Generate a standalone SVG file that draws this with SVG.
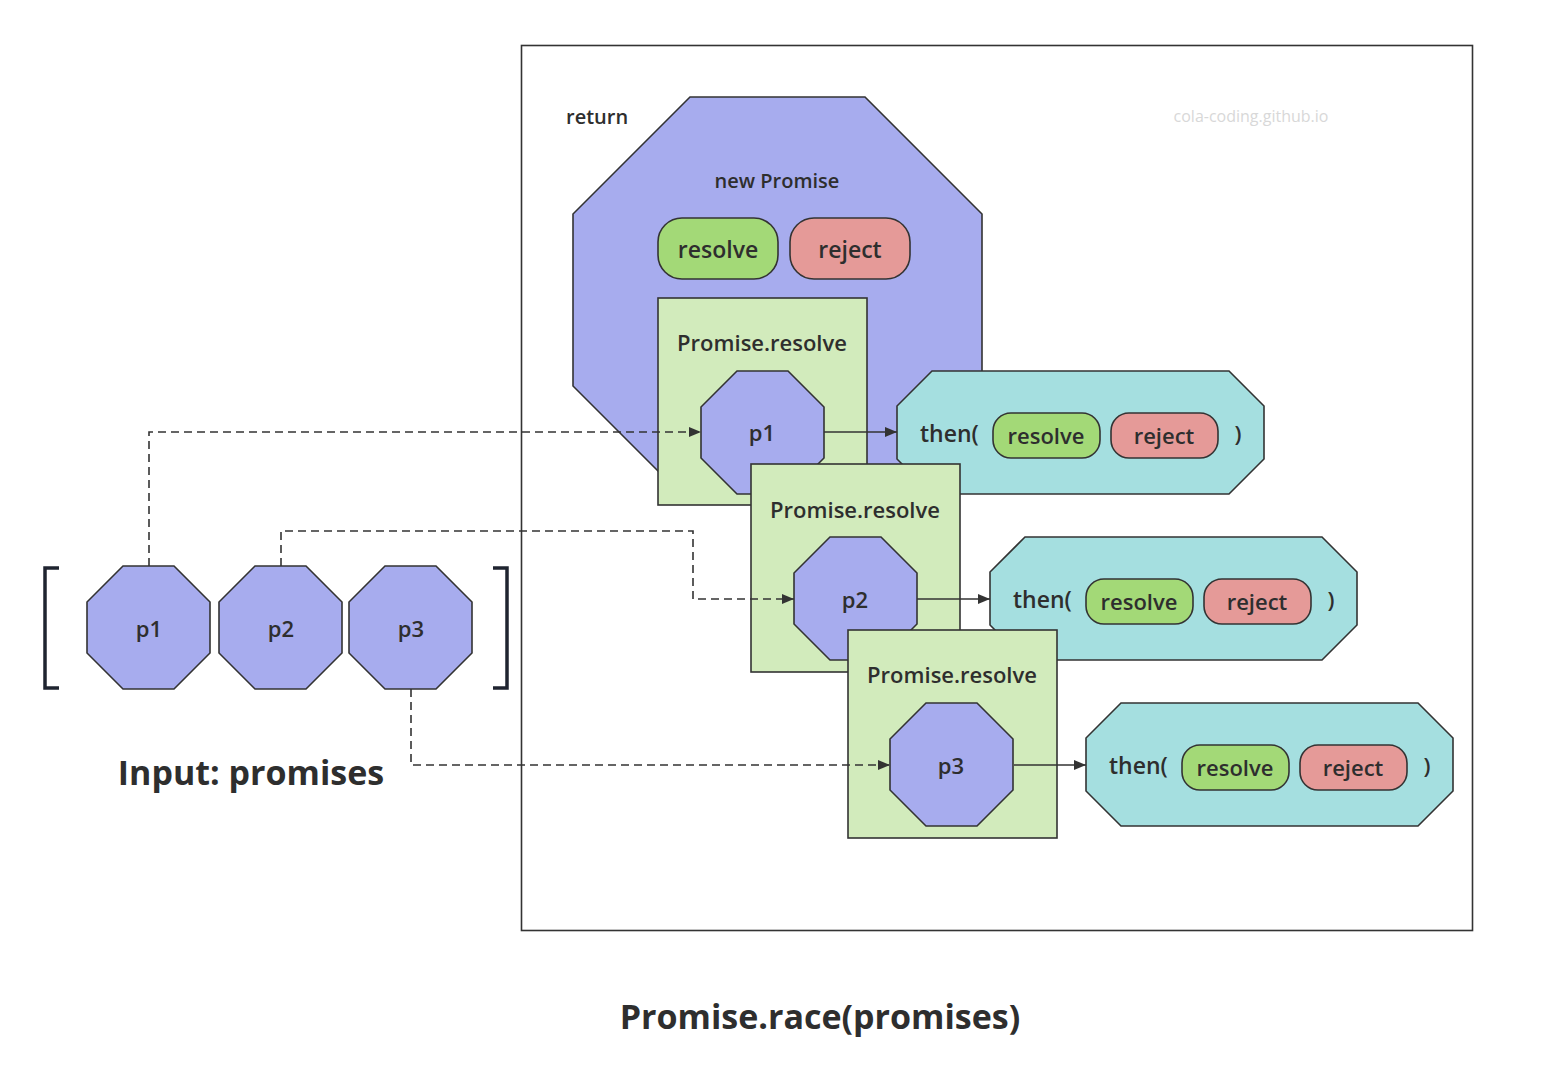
<svg xmlns="http://www.w3.org/2000/svg" xmlns:xlink="http://www.w3.org/1999/xlink" width="1556" height="1078" viewBox="0 0 1556 1078">
<style>
text{font-family:"Open Sans","Noto Sans",sans-serif;font-weight:600;fill:#2e2e2e}
.c{text-anchor:middle}
.blue{fill:#a7acee;stroke:#333;stroke-width:1.6}
.teal{fill:#a5dfe0;stroke:#333;stroke-width:1.6}
.grn{fill:#d2ebbc;stroke:#333;stroke-width:1.6}
.res{fill:#a3d977;stroke:#333;stroke-width:1.6}
.rej{fill:#e59a98;stroke:#333;stroke-width:1.6}
.dash{fill:none;stroke:#333;stroke-width:1.6;stroke-dasharray:8 5}
.solid{fill:none;stroke:#333;stroke-width:1.6}
.br{fill:none;stroke:#1f2430;stroke-width:3.5}
</style>
<defs>
<polygon id="oct" points="36,0 87,0 123,36 123,87 87,123 36,123 0,87 0,36"/>
<polygon id="toct" points="35,0 332,0 367,35 367,88 332,123 35,123 0,88 0,35"/>
<marker id="ah" viewBox="0 0 12 10" refX="12" refY="5" markerWidth="12" markerHeight="10" markerUnits="userSpaceOnUse" orient="auto">
<path d="M0,0 L12,5 L0,10 Z" fill="#333"/>
</marker>
</defs>
<rect width="1556" height="1078" fill="#fff"/>
<g id="frame">
<rect x="521.5" y="45.5" width="951" height="885" fill="none" stroke="#333" stroke-width="1.6"/>
<text x="566" y="124" font-size="20">return</text>
<text x="1251" y="122" class="c" font-size="16" style="font-weight:400;fill:#d8d8d8">cola-coding.github.io</text>
</g>
<g id="new-promise">
<polygon class="blue" points="690,97 865,97 982,214 982,386 865,503 690,503 573,386 573,214"/>
<text x="777" y="188" class="c" font-size="20">new Promise</text>
<rect class="res" x="658" y="218" width="120" height="61" rx="24"/>
<text x="718" y="258" class="c" font-size="23">resolve</text>
<rect class="rej" x="790" y="218" width="120" height="61" rx="24"/>
<text x="850" y="258" class="c" font-size="23">reject</text>
</g>
<g id="resolve1">
<rect class="grn" x="658" y="298" width="209" height="207"/>
<text x="762" y="351" class="c" font-size="22">Promise.resolve</text>
</g>
<g id="inner-p1">
<use xlink:href="#oct" x="701" y="371" class="blue"/>
<text x="762" y="441" class="c" font-size="22">p1</text>
</g>
<g id="then1">
<use xlink:href="#toct" x="897" y="371" class="teal"/>
<text x="920" y="442" font-size="23">then(</text>
<rect class="res" x="993" y="413" width="107" height="45" rx="18"/>
<text x="1046" y="444" class="c" font-size="22">resolve</text>
<rect class="rej" x="1111" y="413" width="107" height="45" rx="18"/>
<text x="1164" y="444" class="c" font-size="22">reject</text>
<text x="1238" y="442" class="c" font-size="22">)</text>
</g>
<g id="resolve2">
<rect class="grn" x="751" y="464" width="209" height="208"/>
<text x="855" y="518" class="c" font-size="22">Promise.resolve</text>
</g>
<g id="inner-p2">
<use xlink:href="#oct" x="794" y="537" class="blue"/>
<text x="855" y="608" class="c" font-size="22">p2</text>
</g>
<g id="then2">
<use xlink:href="#toct" x="990" y="537" class="teal"/>
<text x="1013" y="608" font-size="23">then(</text>
<rect class="res" x="1086" y="579" width="107" height="45" rx="18"/>
<text x="1139" y="610" class="c" font-size="22">resolve</text>
<rect class="rej" x="1204" y="579" width="107" height="45" rx="18"/>
<text x="1257" y="610" class="c" font-size="22">reject</text>
<text x="1331" y="608" class="c" font-size="22">)</text>
</g>
<g id="resolve3">
<rect class="grn" x="848" y="630" width="209" height="208"/>
<text x="952" y="683" class="c" font-size="22">Promise.resolve</text>
</g>
<g id="inner-p3">
<use xlink:href="#oct" x="890" y="703" class="blue"/>
<text x="951" y="774" class="c" font-size="22">p3</text>
</g>
<g id="then3">
<use xlink:href="#toct" x="1086" y="703" class="teal"/>
<text x="1109" y="774" font-size="23">then(</text>
<rect class="res" x="1182" y="745" width="107" height="45" rx="18"/>
<text x="1235" y="776" class="c" font-size="22">resolve</text>
<rect class="rej" x="1300" y="745" width="107" height="45" rx="18"/>
<text x="1353" y="776" class="c" font-size="22">reject</text>
<text x="1427" y="774" class="c" font-size="22">)</text>
</g>
<g id="input">
<path class="br" d="M59,568 H45 V688 H59"/>
<path class="br" d="M493,568 H507 V688 H493"/>
<text x="251" y="785" class="c" font-size="34" style="font-weight:700">Input: promises</text>
</g>
<g id="input-p1">
<use xlink:href="#oct" x="87" y="566" class="blue"/>
<text x="149" y="637" class="c" font-size="22">p1</text>
</g>
<g id="input-p2">
<use xlink:href="#oct" x="219" y="566" class="blue"/>
<text x="281" y="637" class="c" font-size="22">p2</text>
</g>
<g id="input-p3">
<use xlink:href="#oct" x="349" y="566" class="blue"/>
<text x="411" y="637" class="c" font-size="22">p3</text>
</g>
<g id="connectors">
<path class="dash" d="M149,566 V432 H701" marker-end="url(#ah)"/>
<path class="dash" d="M281,566 V531 H693 V599 H794" marker-end="url(#ah)"/>
<path class="dash" d="M411,689 V765 H890" marker-end="url(#ah)"/>
<path class="solid" d="M824,432 H897" marker-end="url(#ah)"/>
<path class="solid" d="M917,599 H990" marker-end="url(#ah)"/>
<path class="solid" d="M1014,765 H1086" marker-end="url(#ah)"/>
</g>
<text x="820" y="1029" class="c" font-size="34" style="font-weight:700">Promise.race(promises)</text>
</svg>
